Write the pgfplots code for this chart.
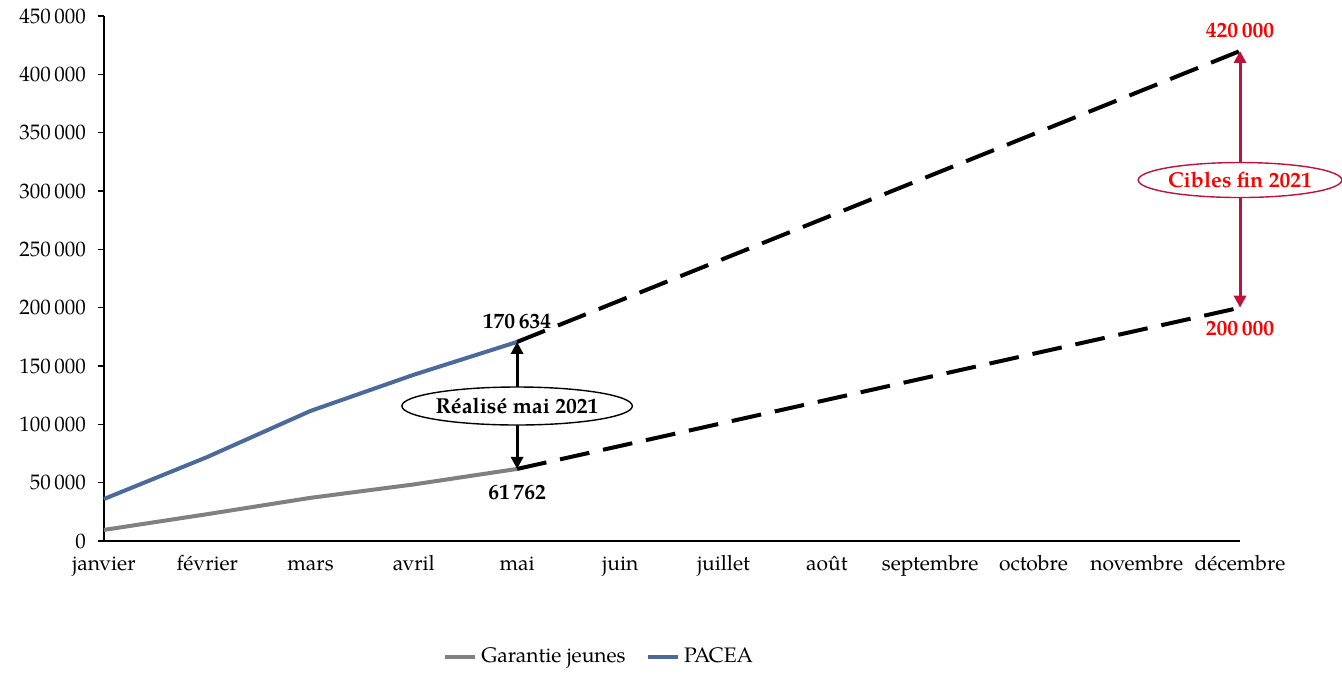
\documentclass[border=0pt]{standalone}
\usepackage{fontspec}
\setmainfont{TeX Gyre Pagella}
\usepackage{pgfplots}
\pgfplotsset{compat=1.18}
\usetikzlibrary{arrows.meta,shapes.geometric}
\definecolor{pacea}{HTML}{4A6A9C}
\definecolor{gj}{HTML}{808080}
\definecolor{crim}{HTML}{C0103C}
\newcommand\fs{\fontsize{10.5}{12.5}\selectfont}
\newcommand\fb{\fontsize{10.8}{12.5}\selectfont\bfseries}
\begin{document}
\begin{tikzpicture}[font=\fs]
\useasboundingbox (-52pt,-71pt) rectangle (619pt,270.5pt);
\begin{axis}[
  scale only axis,
  width=568pt, height=262.5pt,
  xmin=0, xmax=11, ymin=0, ymax=450000,
  axis x line=bottom, axis y line=left,
  axis line style={-, line width=0.6pt},
  xtick={0,...,11},
  xticklabels={janvier,février,mars,avril,mai,juin,juillet,août,septembre,octobre,novembre,décembre},
  x tick style={draw=none},
  xticklabel style={anchor=base, yshift=-11.8pt},
  ytick={0,50000,...,450000},
  y tick style={line width=0.6pt, black},
  tick align=outside,
  major tick length=3pt,
  scaled y ticks=false,
  yticklabel style={xshift=-2.5pt, /pgf/number format/fixed, /pgf/number format/precision=0, /pgf/number format/1000 sep={\,}, /pgf/number format/assume math mode=true},
  tick label style={font=\fs},
  legend style={draw=none, at={(rel axis cs:0.4366,-0.221)}, anchor=center, legend columns=2, font=\fs, /tikz/every even column/.append style={column sep=8pt}},
  legend image code/.code={\draw[#1, line width=2.2pt] (0pt,0pt) -- (15pt,0pt);},
  clip=false,
]
\addplot[gj, line width=2pt] coordinates {(0,9500) (1,23000) (2,37000) (3,48500) (4,61762)};
\addlegendentry{Garantie jeunes}
\addplot[pacea, line width=2pt] coordinates {(0,36000) (1,72000) (2,111500) (3,142500) (4,170634)};
\addlegendentry{PACEA}
\addplot[black, line width=2pt, dash pattern=on 15pt off 7pt, forget plot] coordinates {(4,170634) (11,420000)};
\addplot[black, line width=2pt, dash pattern=on 15pt off 7pt, forget plot] coordinates {(4,61762) (11,200000)};
% annotations
\draw[black, line width=1.5pt, {Triangle[width=6pt,length=6pt]}-{Triangle[width=6pt,length=6pt]}] (axis cs:4,61762) -- (axis cs:4,170634);
\node[ellipse, draw=black, line width=0.7pt, fill=white, minimum width=111pt, minimum height=19pt, inner sep=0pt, font=\fb] at (axis cs:4,115700) {Réalisé mai 2021};
\node[font=\fb] at (axis cs:4,188600) {170\,634};
\node[font=\fb] at (axis cs:4,42000) {61\,762};
\draw[crim, line width=1.5pt, {Triangle[width=6pt,length=6pt]}-{Triangle[width=6pt,length=6pt]}] (axis cs:11,200000) -- (axis cs:11,420000);
\node[ellipse, draw=crim, line width=0.7pt, fill=white, minimum width=101pt, minimum height=17.5pt, inner sep=0pt, text=red, font=\fb] at (axis cs:11,309400) {Cibles fin 2021};
\node[text=red, font=\fb] at (axis cs:11,438000) {420\,000};
\node[text=red, font=\fb] at (axis cs:11,181700) {200\,000};
\end{axis}
\end{tikzpicture}
\end{document}
